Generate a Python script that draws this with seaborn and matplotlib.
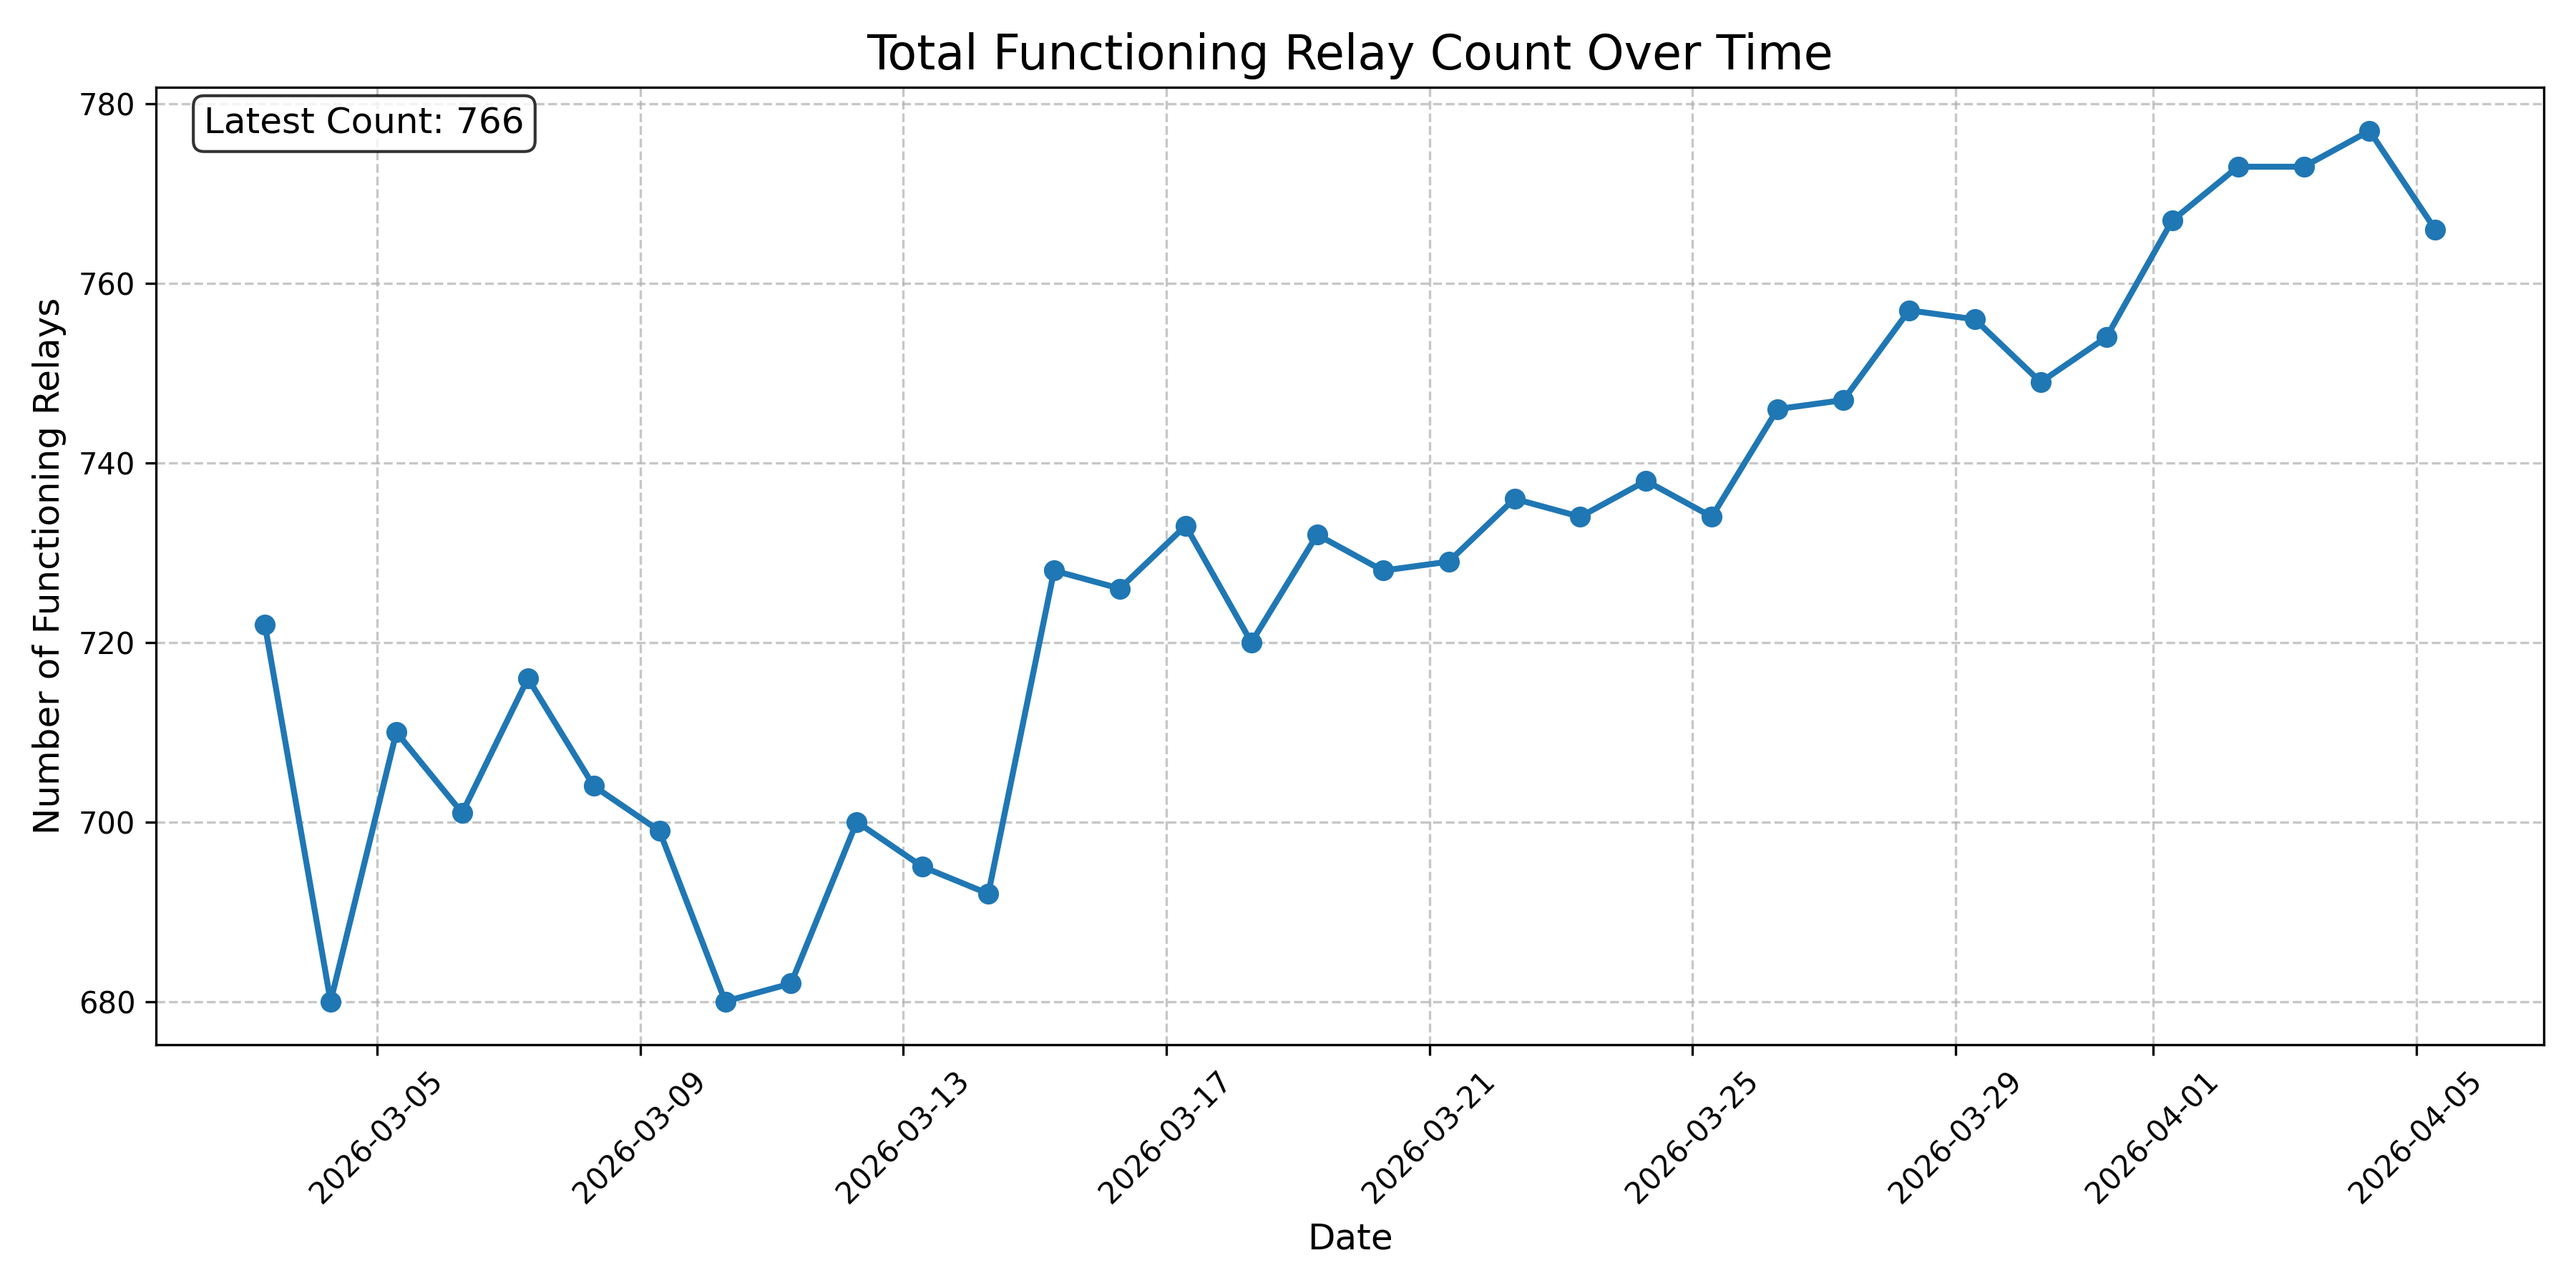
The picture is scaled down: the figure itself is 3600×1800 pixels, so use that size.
import matplotlib
matplotlib.use("Agg")
import matplotlib.pyplot as plt
import matplotlib.dates as mdates
import pandas as pd
import seaborn as sns

# daily snapshots, taken around 07:00
dates = pd.date_range("2026-03-03 07:00", periods=34, freq="D")
relay_counts = [722, 680, 710, 701, 716, 704, 699, 680, 682, 700,
                695, 692, 728, 726, 733, 720, 732, 728, 729, 736,
                734, 738, 734, 746, 747, 757, 756, 749, 754, 767,
                773, 773, 777, 766]

df = pd.DataFrame({"Date": dates, "Count": relay_counts})

fig, ax = plt.subplots(figsize=(12, 6), dpi=300)
sns.lineplot(data=df, x="Date", y="Count", marker="o", linewidth=2,
             markersize=6, color="#1f77b4", markeredgecolor="#1f77b4",
             markeredgewidth=1.0, ax=ax)

ax.set_title("Total Functioning Relay Count Over Time", fontsize=16)
ax.set_xlabel("Date", fontsize=12)
ax.set_ylabel("Number of Functioning Relays", fontsize=12)
ax.grid(True, linestyle="--", alpha=0.7)
ax.xaxis.set_major_formatter(mdates.DateFormatter("%Y-%m-%d"))
plt.setp(ax.get_xticklabels(), rotation=45)

ax.text(0.02, 0.98, f"Latest Count: {relay_counts[-1]}", transform=ax.transAxes,
        fontsize=12, va="top",
        bbox=dict(boxstyle="round", facecolor="white", alpha=0.8))

plt.tight_layout()
plt.savefig("out.png", dpi=300)
